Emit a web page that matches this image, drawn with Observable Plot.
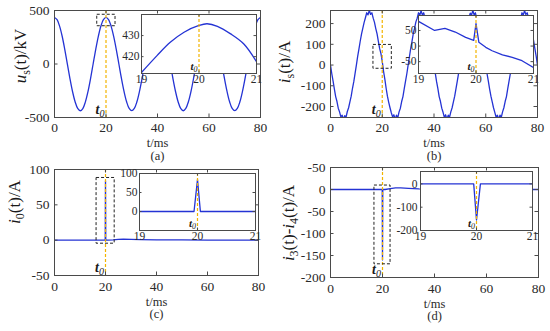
<!DOCTYPE html>
<html><head><meta charset="utf-8">
<script src="https://cdn.jsdelivr.net/npm/d3@7"></script>
<script src="https://cdn.jsdelivr.net/npm/@observablehq/plot@0.6"></script>
<style>
html,body{margin:0;padding:0;background:#fff;}
#chart{position:relative;width:550px;height:331px;overflow:hidden;background:#fff;}
#chart svg{position:absolute;}
</style></head><body><div id="chart"></div>
<script>
// ---------------- data ----------------
const t0 = 20;
const xTicksMain = [0, 20, 40, 60, 80];
const xTicksInset = [19, 20, 21];

// (a) u_s(t) in kV, sampled every 1 ms
const dtA = 1;
const uS = [434, 414, 352, 257, 134, -2, -136, -257, -353, -415, -437, -416, -354, -258, -136, 0, 135, 256, 353, 414,
            436, 414, 352, 256, 135, 0, -135, -256, -353, -415, -436, -415, -353, -256, -135, 0, 135, 256, 353, 415,
            436, 415, 353, 256, 134, -1, -136, -257, -353, -415, -437, -415, -353, -257, -135, 0, 135, 257, 353, 415,
            436, 414, 352, 256, 135, 0, -135, -256, -353, -415, -436, -415, -353, -256, -135, 0, 135, 256, 353, 415, 436];
const yTicksA = [-500, 0, 500];
const boxA = [16.6, 23.7, 353, 460];
// inset (a)
const tInsetA = [19.0, 19.27, 19.5, 19.74, 20.0, 20.14, 20.32, 20.55, 20.78, 21.0];
const uInsetA = [412.5, 420.5, 426.8, 431.6, 434.8, 435.6, 434.4, 430.8, 426, 417.6];
const yTicksInsetA = [420, 430];

// (b) i_s(t) in A, sampled every 0.5 ms
const dtB = 0.5;
const iS = [0, -42, -78, -116, -152, -176, -208, -226, -250, -242, -262, -244, -252, -224, -206, -178, -150, -112, -80, -40,
            0, 42, 78, 116, 150, 178, 206, 228, 252, 242, 264, 244, 252, 226, 206, 176, 150, 114, 79, 55,
            18, -30, -68, -112, -150, -180, -206, -230, -250, -240, -262, -242, -254, -226, -208, -176, -152, -114, -78, -42,
            0, 40, 80, 114, 152, 178, 208, 226, 252, 240, 262, 242, 252, 228, 204, 178, 150, 116, 78, 42,
            2, -40, -80, -114, -152, -176, -208, -228, -252, -240, -262, -242, -252, -226, -206, -178, -150, -114, -78, -40,
            0, 42, 78, 116, 150, 180, 206, 228, 250, 240, 264, 242, 252, 226, 206, 178, 150, 114, 78, 40,
            0, -42, -78, -116, -150, -178, -206, -228, -252, -242, -262, -242, -252, -226, -206, -176, -152, -114, -78, -42,
            0, 40, 80, 114, 150, 178, 206, 226, 252, 242, 262, 244, 252, 228, 206, 178, 150, 116, 78, 42, 0];
const yTicksB = [-200, -100, 0, 100, 200];
const boxB = [16.6, 23.7, -18, 97];
// inset (b)
const tInsetB = [19.0, 19.28, 19.46, 19.64, 19.82, 19.96, 20.0, 20.05, 20.17, 20.28, 20.46, 20.63, 20.80, 20.99];
const iInsetB = [79, 50, 57, 45, 28, 18, 72, 12, -4, -15, -28, -36, -47, -68];
const yTicksInsetB = [-50, 0, 50];

// (c) i_0(t) and (d) i_3(t)-i_4(t)
const tCD = [0, 19.9, 20, 20.1, 21, 23, 25, 27, 30, 34, 40, 50, 60, 70, 80];
const i0 = [0, 0, 84, 0, 0, 0.5, 1.2, 1.5, 1.2, 0.8, 0.5, 0.3, 0.2, 0.1, 0];
const i34 = [0, 0, -160, 0, 0, 2, 3.5, 3.5, 2.5, 1.2, 0.5, 0.2, 0, 0, 0];
const yTicksC = [-50, 0, 50, 100];
const yTicksD = [-200, -150, -100, -50, 0, 50];
const boxC = [16.5, 23.6, -5, 88];
const boxD = [16.9, 23.1, -170, 9];
// insets (c), (d)
const tInsetC = [19, 19.94, 20.0, 20.05, 21];
const i0Inset = [0, 0, 84, 0, 0];
const yTicksInsetC = [0, 50, 100];
const tInsetD = [19, 19.95, 20.0, 20.07, 21];
const i34Inset = [0, 0, -155, 0, 0];
const yTicksInsetD = [-200, -100, 0];

// ---------------- drawing ----------------
const FONT = "'Liberation Serif', 'Times New Roman', serif";
const BLUE = "#2433d4", YEL = "#f2b400", FRAME = "#4a4a4a", TXT = "#2a2a2a";
const chart = document.getElementById("chart");

const sampled = (vals, dt) => vals.map((v, i) => ({t: i * dt, v}));
const paired = (ts, vs) => ts.map((t, i) => ({t, v: vs[i]}));

function panel(o) {
  const pw = o.width - o.ml - o.mr, ph = o.height - o.mt - o.mb;
  const tl = o.tl;
  const marks = [];
  if (o.inset) marks.push(Plot.frame({fill: "white", stroke: null}));
  marks.push(Plot.line(o.data, {x: "t", y: "v", stroke: BLUE, strokeWidth: 1.3, curve: o.curve || "linear", clip: true}));
  marks.push(Plot.ruleX([t0], {stroke: YEL, strokeWidth: 1.2, strokeDasharray: "3,2"}));
  if (o.box) marks.push(Plot.rect([o.box], {x1: d => d[0], x2: d => d[1], y1: d => d[2], y2: d => d[3],
    fill: "none", stroke: "#222", strokeWidth: 1, strokeDasharray: "3,2"}));
  marks.push(
    Plot.tickX(o.xTicks, {x: d => d, insetTop: ph - tl, stroke: FRAME}),
    Plot.tickX(o.xTicks, {x: d => d, insetBottom: ph - tl, stroke: FRAME}),
    Plot.tickY(o.yTicks, {y: d => d, insetRight: pw - tl, stroke: FRAME}),
    Plot.tickY(o.yTicks, {y: d => d, insetLeft: pw - tl, stroke: FRAME}),
    Plot.frame({stroke: FRAME, strokeWidth: 1}),
    Plot.axisX(o.xTicks, {tickSize: 0, tickPadding: o.xPad, fontSize: o.fs, label: null, fill: TXT, tickFormat: d => String(d)}),
    Plot.axisY(o.yTicks, {tickSize: 0, tickPadding: o.yPad, fontSize: o.fs, label: null, fill: TXT, tickFormat: o.yFormat || (d => String(d))})
  );
  if (o.xTitle) {
    marks.push(Plot.text([o.xTitle], {text: d => d, frameAnchor: "bottom", dy: o.xTitleDy, lineAnchor: "middle", fontSize: 12.5, fill: TXT}));
    marks.push(Plot.text([o.tag], {text: d => d, frameAnchor: "bottom", dy: o.tagDy, lineAnchor: "middle", fontSize: 12.5, fill: TXT}));
  }
  const p = Plot.plot({
    width: o.width, height: o.height,
    marginLeft: o.ml, marginRight: o.mr, marginTop: o.mt, marginBottom: o.mb,
    x: {domain: o.xDomain}, y: {domain: o.yDomain},
    style: {fontFamily: FONT, fontSize: o.fs + "px", color: TXT, background: o.inset ? "transparent" : "white", overflow: "visible"},
    marks
  });
  p.style.left = o.left + "px";
  p.style.top = o.top + "px";
  chart.appendChild(p);
  // t0 label
  const x = p.scale("x").apply(t0);
  const yb = o.height - o.mb - o.t0up;
  const s = o.t0size;
  const tx = d3.select(p).append("text").attr("x", x - 1).attr("y", yb).attr("text-anchor", "end")
    .attr("font-family", FONT).attr("fill", "#1a1a1a");
  tx.append("tspan").attr("font-style", "italic").attr("font-weight", "bold").attr("font-size", s).text("t");
  tx.append("tspan").attr("font-style", "italic").attr("font-size", s * 0.72).attr("dy", s * 0.18).text("0");
  // y title
  if (o.yTitle) {
    const [bx, cy, parts] = o.yTitle;
    const yt = d3.select(p).append("text").attr("transform", `translate(${bx},${cy}) rotate(-90)`)
      .attr("text-anchor", "middle").attr("font-family", FONT).attr("font-size", 17).attr("fill", "#1a1a1a");
    let shift = 0;
    for (const part of parts) {
      const ts = yt.append("tspan").text(part.t);
      if (part.i) ts.attr("font-style", "italic");
      if (part.sub) { ts.attr("font-size", 12).attr("dy", 4 - shift); shift = 4; }
      else if (shift) { ts.attr("dy", -shift); shift = 0; }
    }
  }
  return p;
}

const mainCommon = {width: 275, fs: 13.5, xPad: 5, yPad: 5, tl: 3.5, xDomain: [0, 80], xTicks: xTicksMain, t0up: 3, t0size: 14, xTitle: "t/ms"};
const insetCommon = {width: 175, fs: 11.5, xPad: 1, yPad: 2, tl: 2.5, xDomain: [19, 21], xTicks: xTicksInset, inset: true, t0up: 3, t0size: 11};

// (a)
panel({...mainCommon, left: 0, top: 0, height: 165, ml: 54, mr: 15, mt: 10, mb: 48,
  yDomain: [-500, 500], yTicks: yTicksA, data: sampled(uS, dtA), curve: "catmull-rom", box: boxA,
  xTitleDy: 25.5, tag: "(a)", tagDy: 38.5,
  yTitle: [26, 56, [{t: "u", i: true}, {t: "s", sub: true}, {t: "(t)/kV"}]]});
panel({...insetCommon, left: 100, top: 0, height: 95, ml: 41, mr: 19, mt: 14, mb: 22,
  yDomain: [412, 440], yTicks: yTicksInsetA, data: paired(tInsetA, uInsetA), curve: "catmull-rom"});

// (b)
panel({...mainCommon, left: 275, top: 0, height: 165, ml: 55, mr: 13, mt: 10, mb: 48,
  yDomain: [-253, 263], yTicks: yTicksB, data: sampled(iS, dtB), box: boxB,
  xTitleDy: 25.5, tag: "(b)", tagDy: 38.5,
  yTitle: [15, 62, [{t: "i", i: true}, {t: "s", sub: true}, {t: "(t)/A"}]]});
panel({...insetCommon, left: 375, top: 0, height: 95, ml: 43, mr: 17, mt: 15, mb: 22,
  yDomain: [-88, 98], yTicks: yTicksInsetB, data: paired(tInsetB, iInsetB)});

// (c)
panel({...mainCommon, left: 0, top: 165, height: 166, ml: 54, mr: 17, mt: 4, mb: 56,
  yDomain: [-50, 100], yTicks: yTicksC, data: paired(tCD, i0), box: boxC, xPad: 6,
  xTitleDy: 26, tag: "(c)", tagDy: 38.5,
  yTitle: [20, 37, [{t: "i", i: true}, {t: "0", sub: true}, {t: "(t)/A"}]]});
panel({...insetCommon, left: 100, top: 165, height: 90, ml: 39, mr: 20, mt: 8, mb: 25,
  yDomain: [-50, 100], yTicks: yTicksInsetC, data: paired(tInsetC, i0Inset)});

// (d)
panel({...mainCommon, left: 275, top: 165, height: 166, ml: 55, mr: 12, mt: 2, mb: 54,
  yDomain: [-200, 50], yTicks: yTicksD, data: paired(tCD, i34), box: boxD, xPad: 6,
  yFormat: d => (d === 50 ? "-50" : String(d)),
  xTitleDy: 26, tag: "(d)", tagDy: 38.5,
  yTitle: [19, 58, [{t: "i", i: true}, {t: "3", sub: true}, {t: "(t)-"}, {t: "i", i: true}, {t: "4", sub: true}, {t: "(t)/A"}]]});
panel({...insetCommon, left: 375, top: 165, height: 90, ml: 45, mr: 18, mt: 6, mb: 25, yPad: 3,
  yDomain: [-200, 53], yTicks: yTicksInsetD, data: paired(tInsetD, i34Inset)});
</script></body></html>
